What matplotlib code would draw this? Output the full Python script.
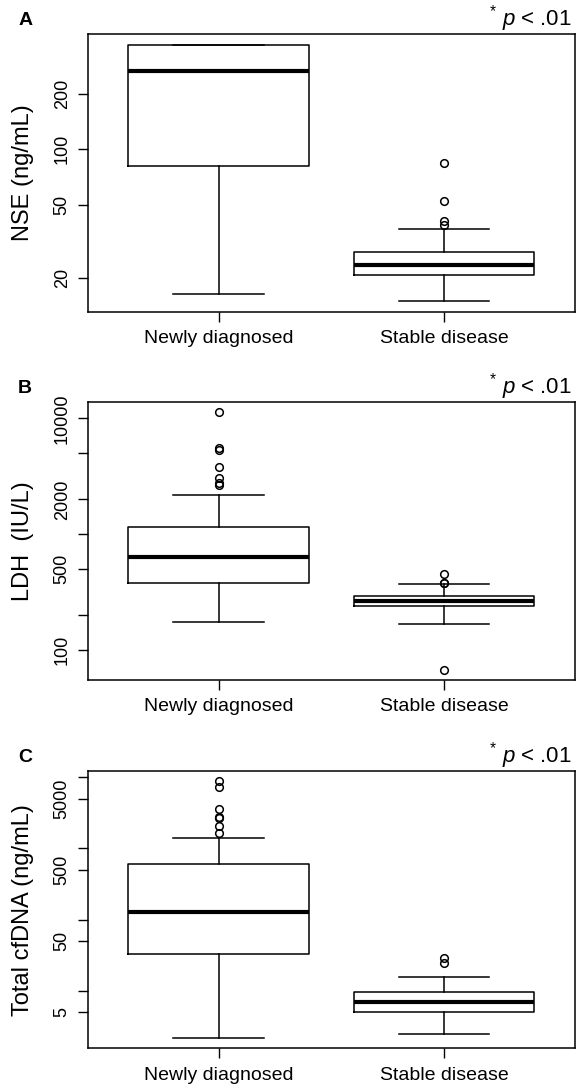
import numpy as np
import matplotlib
matplotlib.use("Agg")
import matplotlib.pyplot as plt
from matplotlib.ticker import NullLocator

plt.rcParams['font.family'] = ['Liberation Sans', 'DejaVu Sans']
plt.rcParams['mathtext.fontset'] = 'custom'
plt.rcParams['mathtext.rm'] = 'Liberation Sans'
plt.rcParams['mathtext.it'] = 'Liberation Sans:italic'

groups = ['Newly diagnosed', 'Stable disease']
panel_letters = ['A', 'B', 'C']
ylabels = ['NSE (ng/mL)', 'LDH  (IU/L)', 'Total cfDNA (ng/mL)']

# five-number summaries: whislo, q1, med, q3, whishi
nse_newly = [16.3, 81, 265, 370, 370]
nse_stable = [14.9, 20.8, 23.6, 27.7, 36.9]
nse_newly_out = []
nse_stable_out = [83.8, 52.3, 40.6, 38.9]

ldh_newly = [177, 377, 637, 1157, 2188]
ldh_stable = [167, 242, 266, 294, 372]
ldh_newly_out = [11270, 5550, 5300, 3770, 3050, 2770, 2640]
ldh_stable_out = [455, 383, 377, 68]

cfdna_newly = [2.16, 33.2, 129, 607, 1390]
cfdna_stable = [2.48, 5.06, 6.83, 9.53, 15.8]
cfdna_newly_out = [8750, 7210, 3620, 2800, 2650, 2070, 1651]
cfdna_stable_out = [28.9, 24.8]

nse_ticks = [20, 50, 100, 200]
nse_ticklabels = ['20', '50', '100', '200']
ldh_ticks = [100, 200, 500, 1000, 2000, 5000, 10000]
ldh_ticklabels = ['100', '', '500', '', '2000', '', '10000']
cfdna_ticks = [5, 10, 50, 100, 500, 1000, 5000, 10000]
cfdna_ticklabels = ['5', '', '50', '', '500', '', '5000', '']

panels = [
    ([nse_newly, nse_stable], [nse_newly_out, nse_stable_out], nse_ticks, nse_ticklabels),
    ([ldh_newly, ldh_stable], [ldh_newly_out, ldh_stable_out], ldh_ticks, ldh_ticklabels),
    ([cfdna_newly, cfdna_stable], [cfdna_newly_out, cfdna_stable_out], cfdna_ticks, cfdna_ticklabels),
]


def make_stats(summary, outliers, label):
    lo, q1, med, q3, hi = summary
    return dict(whislo=lo, q1=q1, med=med, q3=q3, whishi=hi,
                fliers=np.array(outliers, dtype=float), label=label)


fig = plt.figure(figsize=(5.76, 10.91), dpi=100)

# axes boxes in figure fractions (left, bottom, width, height)
rects = [
    (0.1523, 0.7143, 0.846, 0.2543),
    (0.1523, 0.3767, 0.846, 0.2548),
    (0.1523, 0.0391, 0.846, 0.2542),
]

for i, (summ, outs, ticks, ticklabels) in enumerate(panels):
    ax = fig.add_axes(rects[i])
    stats = [make_stats(s, o, g) for s, o, g in zip(summ, outs, groups)]
    ax.bxp(stats, positions=[1, 2], widths=0.8, showfliers=True,
           boxprops=dict(color='black', linewidth=1.1),
           medianprops=dict(color='black', linewidth=3.0, solid_capstyle='butt'),
           whiskerprops=dict(color='black', linewidth=1.1),
           capprops=dict(color='black', linewidth=1.1),
           capwidths=0.4,
           flierprops=dict(marker='o', markerfacecolor='none', markeredgecolor='black',
                           markersize=5.5, markeredgewidth=1.1, linestyle='none'))
    ax.set_yscale('log')

    # R style: data range plus 4% on each side, in log space
    vals = []
    for s, o in zip(summ, outs):
        vals += list(s) + list(o)
    lo, hi = np.log10(min(vals)), np.log10(max(vals))
    pad = 0.04 * (hi - lo)
    ax.set_ylim(10 ** (lo - pad), 10 ** (hi + pad))
    ax.set_xlim(0.42, 2.58)

    ax.set_yticks(ticks)
    ax.set_yticklabels(ticklabels, rotation=90, va='center')
    ax.yaxis.set_minor_locator(NullLocator())
    ax.set_xticks([1, 2])
    ax.set_xticklabels(groups, fontsize=14)
    ax.tick_params(axis='y', direction='out', length=7.2, width=1.0, labelsize=13, pad=5)
    ax.tick_params(axis='x', direction='out', length=7.2, width=1.0, pad=6)
    for sp in ax.spines.values():
        sp.set_linewidth(1.1)

    ax.set_ylabel(ylabels[i], fontsize=17)
    ax.yaxis.set_label_coords(-0.11, 0.5)

    ax.text(0.994, 1.032, r'$^{*}\ \mathit{p}$ < .01', transform=ax.transAxes,
            ha='right', va='baseline', fontsize=16)
    ax.text(-0.143, 1.032, panel_letters[i], transform=ax.transAxes,
            ha='left', va='baseline', fontsize=14, fontweight='bold')

fig.savefig('out.png', dpi=100)
